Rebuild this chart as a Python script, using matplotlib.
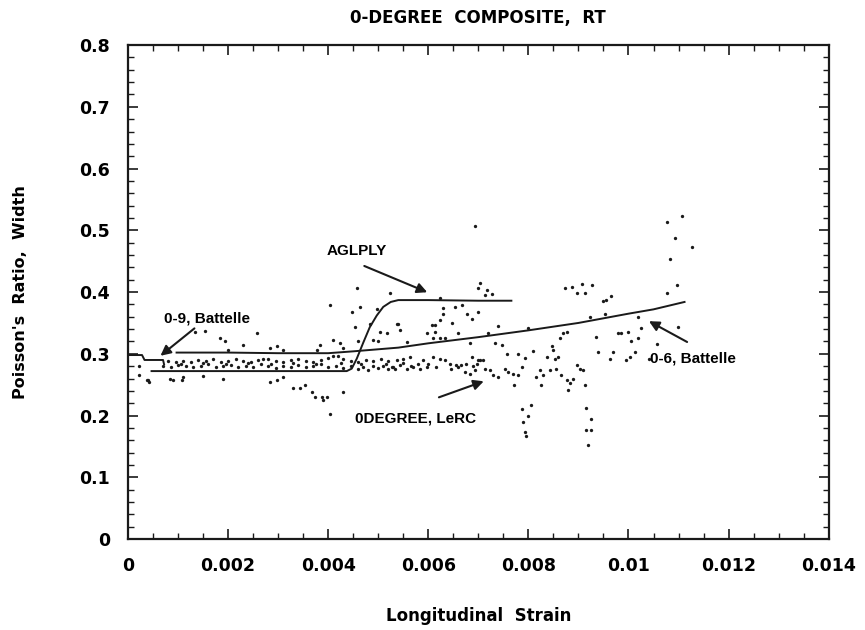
import matplotlib
matplotlib.use("Agg")
import matplotlib.pyplot as plt
from matplotlib.ticker import MultipleLocator
import numpy as np

plt.rcParams['font.family'] = ['DejaVu Sans']
plt.rcParams['font.weight'] = 'bold'

# curves, strain given in units of 0.001
aglply_x = np.array([0.47, 1.0, 2.0, 3.0, 4.0, 4.37, 4.47, 4.57, 4.70, 4.83, 4.97,
                     5.10, 5.25, 5.40, 6.0, 7.0, 7.66]) * 1e-3
aglply_y = [0.272, 0.272, 0.272, 0.272, 0.272, 0.272, 0.276, 0.292, 0.318, 0.343, 0.362,
            0.376, 0.384, 0.387, 0.387, 0.386, 0.386]

b06_x = np.array([0.97, 2.0, 3.0, 4.0, 4.5, 5.4, 6.0, 7.0, 8.0, 9.0, 10.0, 10.5, 11.12]) * 1e-3
b06_y = [0.302, 0.302, 0.301, 0.301, 0.304, 0.310, 0.317, 0.327, 0.338, 0.350, 0.365, 0.372, 0.384]

b09_x = np.array([0.0, 0.28, 0.33, 0.70, 0.72]) * 1e-3
b09_y = [0.298, 0.298, 0.290, 0.290, 0.283]

# 0DEGREE, LeRC test points
lerc_x = np.array([
    # left end and low scatter
    0.21, 0.37, 0.42, 0.21, 0.40, 0.84, 0.905, 1.07, 1.105, 1.49, 1.90,
    1.34, 1.54, 1.84, 1.94, 2.0, 2.30, 2.57, 2.84, 2.97, 3.10,
    2.84, 2.97, 3.10, 3.30, 3.43, 3.53, 3.67, 3.74, 3.87, 3.97, 3.90, 4.03, 4.30,
    4.03, 4.57, 4.47, 4.63, 5.23, 4.83, 4.97, 4.53, 4.90, 4.10, 4.23, 4.30, 3.84, 3.77,
    5.03, 5.17, 5.0, 4.60, 5.37,
    # upper band
    0.8, 0.95, 1.1, 1.25, 1.4, 1.55, 1.7, 1.85, 2.0, 2.15, 2.3, 2.45, 2.6, 2.7, 2.8,
    2.95, 3.1, 3.25, 3.4, 3.55, 3.7, 3.85, 4.0, 4.1, 4.2, 4.3, 4.45, 4.6, 4.75, 4.9,
    5.05, 5.2,
    # lower band
    0.7, 0.85, 1.0, 1.15, 1.3, 1.45, 1.6, 1.75, 1.9, 2.05, 2.2, 2.35, 2.5, 2.65, 2.8,
    2.95, 3.1, 3.25, 3.4, 3.55, 3.7, 3.85, 4.0, 4.15, 4.3, 4.45, 4.6, 4.7, 4.8, 4.9,
    5.0, 5.1, 5.2, 5.3,
    # middle band
    1.05, 1.5, 1.95, 2.4, 2.85, 3.3, 3.75, 4.25, 4.65, 5.15,
    # middle strains
    7.03, 7.0, 7.17, 7.13, 7.27, 6.23, 6.30, 6.30, 6.53, 6.67, 6.77, 6.87, 7.0,
    6.23, 6.07, 6.13, 6.47, 5.97, 6.13, 5.4, 5.43, 5.57, 6.1, 6.23, 6.33, 6.6,
    6.83, 7.2, 7.4, 7.33, 7.47, 7.57, 7.8, 7.93, 8.1, 8.37, 8.5, 8.47, 8.53, 8.6,
    8.63, 8.7, 8.77, 8.0, 8.73, 8.87, 8.97, 9.07, 9.27, 9.13, 9.5, 9.56, 9.66,
    9.23, 9.53, 9.36, 9.4, 9.63, 9.7, 9.8, 9.86, 10.0, 10.06, 10.2, 10.26, 10.13,
    10.03, 9.95, 10.4, 10.2,
    6.87, 6.97, 7.0, 7.1, 7.13, 7.23, 7.3, 7.4, 7.53, 7.6, 7.7, 7.8, 7.87, 7.71,
    8.16, 8.23, 8.3, 8.26, 8.43, 8.56, 8.66, 8.77, 8.83, 8.8, 8.9, 8.97, 9.03, 9.1,
    9.13, 7.87, 8.06, 8.0, 7.9, 7.93, 7.96, 9.15, 9.26, 9.16, 9.26, 9.2,
    6.1, 6.23, 6.33, 6.43, 6.56, 6.66, 6.73, 6.83, 6.93, 7.03,
    5.9, 5.97, 5.83, 5.7, 5.57, 5.43, 5.33, 5.27, 5.37, 5.5, 5.63,
    5.5, 5.65, 5.8, 6.0, 6.15, 6.45, 6.6, 6.75, 6.9,
    # high strains
    10.76, 11.06, 10.93, 11.26, 10.83, 10.96, 10.77, 10.99, 10.56, 6.93,
]) * 1e-3

lerc_y = [
    0.265, 0.2575, 0.254, 0.280, 0.257, 0.260, 0.257, 0.257, 0.263, 0.264, 0.260,
    0.336, 0.337, 0.325, 0.320, 0.306, 0.314, 0.334, 0.309, 0.312, 0.306,
    0.255, 0.257, 0.263, 0.244, 0.244, 0.249, 0.238, 0.230, 0.230, 0.230, 0.225, 0.203, 0.238,
    0.379, 0.406, 0.368, 0.376, 0.398, 0.349, 0.373, 0.344, 0.322, 0.322, 0.317, 0.309, 0.314, 0.306,
    0.336, 0.333, 0.320, 0.320, 0.349,
    0.288, 0.286, 0.289, 0.287, 0.290, 0.288, 0.291, 0.287, 0.289, 0.292, 0.288, 0.286, 0.290, 0.291, 0.291,
    0.288, 0.287, 0.290, 0.292, 0.289, 0.287, 0.290, 0.293, 0.296, 0.297, 0.291, 0.289, 0.286, 0.290, 0.288,
    0.292, 0.289,
    0.281, 0.279, 0.282, 0.280, 0.278, 0.281, 0.283, 0.279, 0.280, 0.282, 0.278, 0.281, 0.279, 0.283, 0.280,
    0.277, 0.281, 0.279, 0.282, 0.278, 0.280, 0.283, 0.279, 0.281, 0.277, 0.280, 0.276, 0.279, 0.274, 0.281,
    0.277, 0.280, 0.275, 0.279,
    0.284, 0.285, 0.284, 0.285, 0.283, 0.285, 0.284, 0.285, 0.283, 0.284,
    0.414, 0.406, 0.403, 0.395, 0.397, 0.390, 0.374, 0.365, 0.376, 0.379, 0.365, 0.357, 0.368,
    0.355, 0.347, 0.347, 0.350, 0.334, 0.336, 0.349, 0.338, 0.319, 0.325, 0.325, 0.326, 0.333,
    0.317, 0.333, 0.345, 0.317, 0.314, 0.300, 0.300, 0.294, 0.304, 0.295, 0.306, 0.313, 0.292, 0.295,
    0.325, 0.333, 0.336, 0.341, 0.406, 0.409, 0.398, 0.413, 0.412, 0.398, 0.385, 0.387, 0.393,
    0.360, 0.365, 0.327, 0.303, 0.292, 0.303, 0.333, 0.334, 0.336, 0.320, 0.325, 0.341, 0.303,
    0.295, 0.290, 0.292, 0.360,
    0.295, 0.284, 0.290, 0.290, 0.276, 0.273, 0.265, 0.263, 0.276, 0.271, 0.268, 0.265, 0.279, 0.250,
    0.263, 0.274, 0.266, 0.250, 0.274, 0.276, 0.265, 0.257, 0.252, 0.241, 0.260, 0.282, 0.276, 0.273,
    0.250, 0.211, 0.217, 0.200, 0.190, 0.174, 0.167, 0.213, 0.195, 0.176, 0.176, 0.152,
    0.295, 0.292, 0.290, 0.284, 0.282, 0.282, 0.271, 0.268, 0.274, 0.290,
    0.290, 0.279, 0.276, 0.279, 0.276, 0.282, 0.276, 0.279, 0.290, 0.292, 0.295,
    0.285, 0.281, 0.284, 0.283, 0.279, 0.276, 0.279, 0.284, 0.281,
    0.514, 0.523, 0.487, 0.473, 0.453, 0.411, 0.398, 0.344, 0.316, 0.507,
]

xticks = [0, 0.002, 0.004, 0.006, 0.008, 0.010, 0.012, 0.014]
xtick_labels = ['0', '0.002', '0.004', '0.006', '0.008', '0.01', '0.012', '0.014']
yticks = [0, 0.1, 0.2, 0.3, 0.4, 0.5, 0.6, 0.7, 0.8]
ytick_labels = ['0', '0.1', '0.2', '0.3', '0.4', '0.5', '0.6', '0.7', '0.8']

fig = plt.figure(figsize=(8.65, 6.3), dpi=100)
ax = fig.add_axes([0.148, 0.1444, 0.810, 0.784])

ink = '#1a1a1a'
ax.plot(lerc_x, lerc_y, 'o', ms=2.4, color=ink, mew=0)
ax.plot(aglply_x, aglply_y, color=ink, lw=1.4)
ax.plot(b06_x, b06_y, color=ink, lw=1.4)
ax.plot(b09_x, b09_y, color=ink, lw=1.4)

ax.set_xlim(0, 0.014)
ax.set_ylim(0, 0.8)
ax.set_xticks(xticks, xtick_labels)
ax.set_yticks(yticks, ytick_labels)
ax.xaxis.set_minor_locator(MultipleLocator(0.0005))
ax.yaxis.set_minor_locator(MultipleLocator(0.02))
ax.tick_params(which='both', direction='in', top=True, right=True, color=ink)
ax.tick_params(which='major', length=7, width=1.2, labelsize=12.5, pad=13)
ax.tick_params(which='minor', length=4, width=1.0)
for s in ax.spines.values():
    s.set_linewidth(1.6)
    s.set_color(ink)

ax.set_title('0-DEGREE  COMPOSITE,  RT', fontsize=12, fontweight='bold', pad=16)
ax.set_xlabel('Longitudinal  Strain', fontsize=12, fontweight='bold', va='center')
ax.set_ylabel("Poisson's  Ratio,  Width", fontsize=11.5, fontweight='bold', va='center')
ax.xaxis.set_label_coords(0.5, -0.155)
ax.yaxis.set_label_coords(-0.154, 0.5)

arrow = dict(arrowstyle='-|>', lw=1.5, color=ink, mutation_scale=15)
txt = dict(fontsize=11, fontweight='bold', family='Liberation Sans', ha='center', va='center')

ax.text(0.00457, 0.466, 'AGLPLY', **txt)
ax.annotate('', xy=(0.00603, 0.398), xytext=(0.00467, 0.444), arrowprops=arrow)

ax.text(0.00157, 0.357, '0-9, Battelle', **txt)
ax.annotate('', xy=(0.000605, 0.294), xytext=(0.00137, 0.344), arrowprops=arrow)

ax.text(0.00575, 0.195, '0DEGREE, LeRC', **txt)
ax.annotate('', xy=(0.00716, 0.257), xytext=(0.00616, 0.228), arrowprops=arrow)

ax.text(0.01129, 0.293, '0-6, Battelle', **txt)
ax.annotate('', xy=(0.01036, 0.355), xytext=(0.01122, 0.317), arrowprops=arrow)

fig.savefig('out.png', dpi=100)
